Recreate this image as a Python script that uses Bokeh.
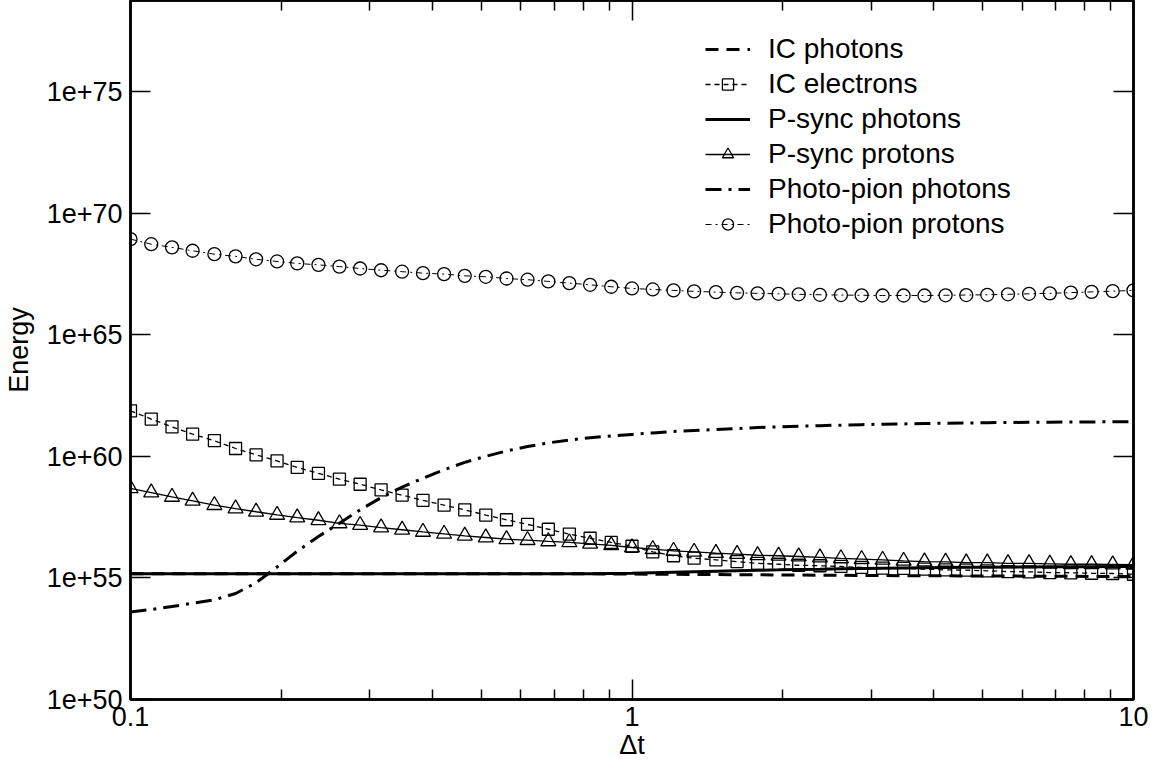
from bokeh.plotting import figure
from bokeh.models import (Range1d, LogAxis, FixedTicker, CustomJSTickFormatter,
                          Legend, LegendItem)
from bokeh.embed import file_html
from bokeh.resources import INLINE

# ---- data (energies stored as log10 exponents) ----
dt = [0.1, 0.110, 0.121, 0.133, 0.147, 0.162, 0.178, 0.196, 0.215, 0.237, 0.261, 0.287,
      0.316, 0.348, 0.383, 0.422, 0.464, 0.511, 0.562, 0.619, 0.681, 0.750, 0.825, 0.909,
      1.0, 1.10, 1.21, 1.33, 1.47, 1.62, 1.78, 1.96, 2.15, 2.37, 2.61, 2.87,
      3.16, 3.48, 3.83, 4.22, 4.64, 5.11, 5.62, 6.19, 6.81, 7.50, 8.25, 9.09, 10.0]

ic_photons_exp = [55.17] * 22 + [55.17, 55.16, 55.16, 55.15, 55.15, 55.14, 55.14, 55.13,
                                 55.13, 55.12, 55.12, 55.11, 55.11, 55.10, 55.10, 55.09,
                                 55.09, 55.09, 55.08, 55.08, 55.08, 55.07, 55.07, 55.07,
                                 55.06, 55.06, 55.06]

ic_electrons_exp = [61.87, 61.53, 61.21, 60.91, 60.64, 60.32, 60.06, 59.81, 59.54, 59.30,
                    59.06, 58.85, 58.62, 58.40, 58.19, 57.99, 57.80, 57.58, 57.39, 57.20,
                    57.00, 56.80, 56.63, 56.46, 56.30, 56.07, 55.91, 55.81, 55.74, 55.67,
                    55.60, 55.56, 55.52, 55.50, 55.47, 55.43, 55.40, 55.39, 55.36, 55.33,
                    55.32, 55.29, 55.26, 55.25, 55.22, 55.21, 55.19, 55.18, 55.15]

psync_photons_exp = [55.17] * 22 + [55.17, 55.18, 55.19, 55.21, 55.23, 55.25, 55.27, 55.29,
                                    55.31, 55.33, 55.35, 55.36, 55.38, 55.39, 55.40, 55.41,
                                    55.42, 55.43, 55.44, 55.44, 55.45, 55.45, 55.46, 55.46,
                                    55.46, 55.47, 55.47]

psync_protons_exp = [58.68, 58.51, 58.33, 58.17, 57.99, 57.85, 57.72, 57.59, 57.48, 57.37,
                     57.24, 57.17, 57.07, 56.98, 56.89, 56.81, 56.73, 56.66, 56.59, 56.55,
                     56.50, 56.46, 56.40, 56.34, 56.25, 56.18, 56.11, 56.07, 56.02, 55.98,
                     55.93, 55.91, 55.88, 55.84, 55.80, 55.77, 55.74, 55.70, 55.67, 55.66,
                     55.63, 55.63, 55.60, 55.60, 55.58, 55.56, 55.56, 55.55, 55.54]

pion_photons_exp = [53.60, 53.70, 53.82, 53.96, 54.10, 54.36, 54.80, 55.45, 56.10, 56.70,
                    57.25, 57.80, 58.30, 58.73, 59.10, 59.45, 59.75, 60.00, 60.22, 60.40,
                    60.55, 60.67, 60.76, 60.84, 60.90, 60.96, 61.02, 61.06, 61.10, 61.14,
                    61.18, 61.21, 61.24, 61.26, 61.28, 61.30, 61.32, 61.33, 61.35, 61.36,
                    61.37, 61.38, 61.39, 61.40, 61.40, 61.41, 61.41, 61.42, 61.42]

pion_protons_exp = [68.93, 68.72, 68.59, 68.45, 68.31, 68.22, 68.10, 68.01, 67.93, 67.87,
                    67.80, 67.72, 67.65, 67.59, 67.53, 67.49, 67.42, 67.38, 67.31, 67.26,
                    67.19, 67.12, 67.05, 66.97, 66.90, 66.86, 66.82, 66.78, 66.75, 66.72,
                    66.70, 66.68, 66.66, 66.64, 66.63, 66.62, 66.61, 66.61, 66.61, 66.62,
                    66.63, 66.64, 66.66, 66.68, 66.70, 66.73, 66.76, 66.79, 66.82]

series_names = ["IC photons", "IC electrons", "P-sync photons", "P-sync protons",
                "Photo-pion photons", "Photo-pion protons"]

x_major = [0.1, 1, 10]
x_minor = [0.2, 0.3, 0.4, 0.5, 0.6, 0.7, 0.8, 0.9, 2, 3, 4, 5, 6, 7, 8, 9]
y_major = [1e50, 1e55, 1e60, 1e65, 1e70, 1e75]


def energy(exps):
    return [10.0 ** e for e in exps]


FONT = "Liberation Sans"
FS_TICK = "27px"
FS_LEG = "28px"

p = figure(width=1150, height=770, x_axis_type="log", y_axis_type="log",
           x_range=Range1d(0.1, 10), y_range=Range1d(1e50, 10 ** 78.74),
           output_backend="svg", toolbar_location=None,
           min_border_left=126, min_border_right=17, min_border_top=0,
           min_border_bottom=71)
p.grid.visible = False
p.outline_line_color = "black"
p.outline_line_width = 2.5
p.background_fill_color = "white"
p.border_fill_color = "white"


def style_axis(ax, ticks, minor, labels):
    ax.ticker = FixedTicker(ticks=ticks, minor_ticks=minor)
    ax.axis_line_color = "black"
    ax.axis_line_width = 2.5
    ax.major_tick_in = 20
    ax.major_tick_out = 0
    ax.minor_tick_in = 10
    ax.minor_tick_out = 0
    ax.major_tick_line_width = 1.5
    ax.minor_tick_line_width = 1.5
    ax.major_tick_line_color = "black"
    ax.minor_tick_line_color = "black"
    if labels:
        ax.major_label_text_font = FONT
        ax.major_label_text_font_size = FS_TICK
        ax.major_label_text_color = "black"
        ax.axis_label_text_font = FONT
        ax.axis_label_text_font_size = FS_TICK
        ax.axis_label_text_font_style = "normal"
        ax.axis_label_text_color = "black"
    else:
        ax.major_label_text_font_size = "0px"
        ax.major_label_standoff = 0
        ax.formatter = CustomJSTickFormatter(code="return '';")


xa = p.xaxis[0]
style_axis(xa, x_major, x_minor, True)
xa.formatter = CustomJSTickFormatter(code="return tick.toString();")
xa.axis_label = "Δt"
xa.major_label_standoff = 7
xa.axis_label_standoff = 1

ya = p.yaxis[0]
style_axis(ya, y_major, [], True)
ya.formatter = CustomJSTickFormatter(code="return '1e+' + Math.round(Math.log10(tick));")
ya.axis_label = "Energy"
ya.major_label_standoff = 8
ya.axis_label_standoff = 10

top_ax = LogAxis()
style_axis(top_ax, x_major, x_minor, False)
p.add_layout(top_ax, "above")

right_ax = LogAxis()
style_axis(right_ax, y_major, [], False)
p.add_layout(right_ax, "right")

# ---- series ----
r_icph = p.line(dt, energy(ic_photons_exp), line_color="black", line_width=3,
                line_dash="13 8")

r_icel_l = p.line(dt, energy(ic_electrons_exp), line_color="black", line_width=1.3,
                  line_dash="5 4")
r_icel_m = p.scatter(dt, energy(ic_electrons_exp), marker="square", size=12,
                     fill_color=None, line_color="black", line_width=1.3)

r_psph = p.line(dt, energy(psync_photons_exp), line_color="black", line_width=3)

r_pspr_l = p.line(dt, energy(psync_protons_exp), line_color="black", line_width=1.3)
r_pspr_m = p.scatter(dt, energy(psync_protons_exp), marker="triangle", size=15,
                     fill_color=None, line_color="black", line_width=1.3)

r_ppph = p.line(dt, energy(pion_photons_exp), line_color="black", line_width=3,
                line_dash="16 7 3 7")

r_pppr_l = p.line(dt, energy(pion_protons_exp), line_color="black", line_width=1,
                  line_dash="6 4 2 4")
r_pppr_m = p.scatter(dt, energy(pion_protons_exp), marker="circle", size=13,
                     fill_color=None, line_color="black", line_width=1.3)

items = [
    LegendItem(label=series_names[0], renderers=[r_icph]),
    LegendItem(label=series_names[1], renderers=[r_icel_l, r_icel_m]),
    LegendItem(label=series_names[2], renderers=[r_psph]),
    LegendItem(label=series_names[3], renderers=[r_pspr_l, r_pspr_m]),
    LegendItem(label=series_names[4], renderers=[r_ppph]),
    LegendItem(label=series_names[5], renderers=[r_pppr_l, r_pppr_m]),
]
legend = Legend(items=items, location=(575, 459), orientation="vertical",
                border_line_color=None, background_fill_alpha=0,
                label_text_font=FONT, label_text_font_size=FS_LEG, label_text_color="black",
                glyph_width=45, glyph_height=28, label_height=28, label_standoff=18,
                spacing=3, padding=0, margin=0)
p.add_layout(legend, "center")

open("out.html", "w").write(file_html(p, INLINE))
